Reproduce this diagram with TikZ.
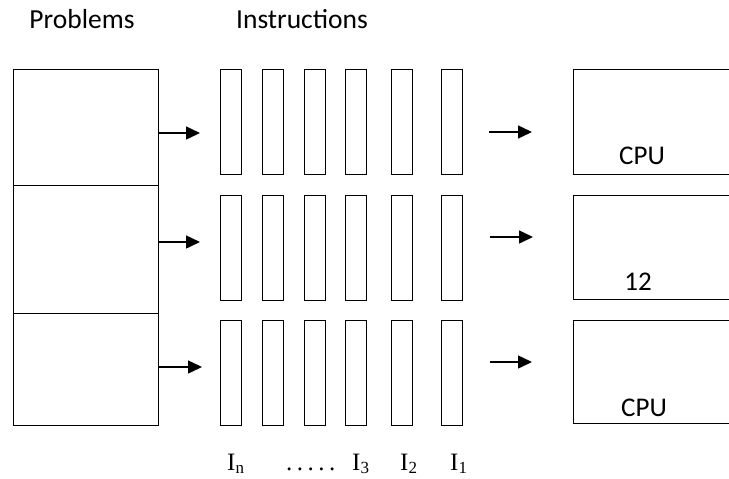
\documentclass[tikz,border=0pt]{standalone}
\usepackage{fontspec}
\setmainfont{Carlito}
\newfontfamily\labelserif{Liberation Serif}
\usetikzlibrary{arrows.meta}
\begin{document}
\begin{tikzpicture}[x=1pt,y=-1pt,
  box/.style={draw,line width=1.4pt,inner sep=0pt},
  bar/.style={box,minimum width=21pt,minimum height=105pt},
  flow/.style={line width=1.5pt,-{Triangle[length=14pt,width=13pt]}},
  title/.style={font=\fontsize{27.5}{32}\selectfont,inner sep=0pt,anchor=base},
  cpulabel/.style={font=\fontsize{27}{32}\selectfont,inner sep=0pt,anchor=base},
  ilabel/.style={font=\labelserif\fontsize{25}{28}\selectfont,inner sep=0pt,anchor=base west}]
\useasboundingbox (0,0) rectangle (729,479);
\clip (0,0) rectangle (729,479);

% column titles
\node[title] (tprob) at (82,28) {Problems};
\node[title] (tinst) at (302,28) {Instructions};

% stacked problem boxes
\node[box,minimum width=145pt,minimum height=116pt,anchor=north west] (p1) at (13,69) {};
\node[box,minimum width=145pt,minimum height=128pt,anchor=north west] (p2) at (13,185) {};
\node[box,minimum width=145pt,minimum height=112pt,anchor=north west] (p3) at (13,313) {};

% arrow targets in front of each instruction row
\coordinate (a1) at (200,133);
\coordinate (a2) at (200,242);
\coordinate (a3) at (202,367);
\draw[flow] (p1.east |- a1) -- (a1);
\draw[flow] (p2.east |- a2) -- (a2);
\draw[flow] (p3.east |- a3) -- (a3);

% instruction bars, three rows of six
\foreach \r/\yt in {1/69,2/195,3/320}{
  \foreach \c/\xl in {1/220,2/262,3/304,4/345,5/391,6/441}{
    \node[bar,anchor=north west] (b\r\c) at (\xl,\yt) {};
  }
}

% arrows towards the processors
\coordinate (s1) at (489,132);  \coordinate (e1) at (532,132);
\coordinate (s2) at (490,237);  \coordinate (e2) at (533,237);
\coordinate (s3) at (490,362);  \coordinate (e3) at (532,362);
\draw[flow] (s1) -- (e1);
\draw[flow] (s2) -- (e2);
\draw[flow] (s3) -- (e3);

% processor boxes, running past the right edge
\node[box,minimum width=180pt,minimum height=105pt,anchor=north west] (c1) at (573,69) {};
\node[box,minimum width=180pt,minimum height=104pt,anchor=north west] (c2) at (573,195) {};
\node[box,minimum width=180pt,minimum height=103pt,anchor=north west] (c3) at (573,320) {};
\node[cpulabel] (l1) at (642,164) {CPU};
\node[cpulabel] (l2) at (638,290) {12};
\node[cpulabel] (l3) at (644,416) {CPU};

% instruction labels
\node[ilabel] (in) at (227,470) {I\raisebox{-3pt}{\fontsize{17}{17}\selectfont n}};
\node[ilabel] (idots) at (286,470) {.\kern4.5pt.\kern4.5pt.\kern4.5pt.\kern4.5pt.};
\node[ilabel] (i3) at (352,470) {I\raisebox{-3pt}{\fontsize{17}{17}\selectfont 3}};
\node[ilabel] (i2) at (400,470) {I\raisebox{-3pt}{\fontsize{17}{17}\selectfont 2}};
\node[ilabel] (i1) at (450,470) {I\raisebox{-3pt}{\fontsize{17}{17}\selectfont 1}};
\end{tikzpicture}
\end{document}
